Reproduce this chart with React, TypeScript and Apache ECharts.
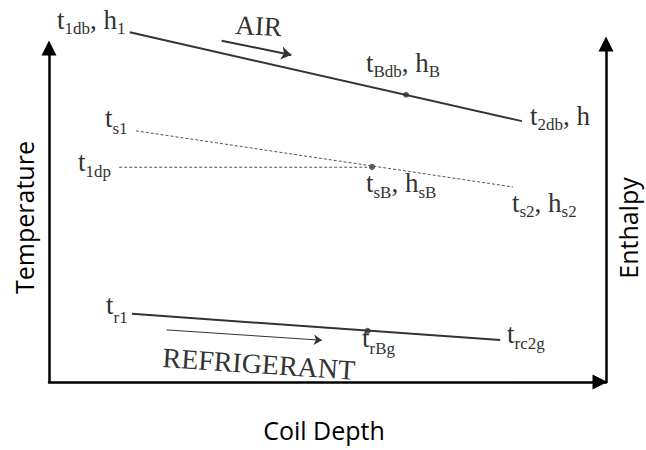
import React, { useEffect, useRef } from "react";
import * as echarts from "echarts";

// ---- data (x: coil depth scale 0..100, y: temperature / enthalpy scale 0..100) ----
const airLine = [[14.5, 104.7], [84.9, 78.1]];
const airState = [[64.1, 86.0]];
const saturationLine = [[15.6, 75.2], [83.3, 58.4]];
const dewPointLine = [[12.6, 64.3], [58.0, 64.3]];
const saturationState = [[58.0, 64.4]];
const refrigerantLine = [[14.9, 20.4], [81.0, 12.6]];
const refrigerantState = [[57.2, 15.3]];
const airFlowArrow = [[31.0, 102.2], [43.5, 97.9]];
const refrigerantFlowArrow = [[21.1, 15.6], [49.0, 12.5]];

const axisTitles = ["Coil Depth", "Temperature", "Enthalpy"];
const flowLabels = ["AIR", "REFRIGERANT"];
// state labels: [text, isSubscript]
const stateLabels: [string, number][][] = [
  [["t", 0], ["1db", 1], [", h", 0], ["1", 1]],
  [["t", 0], ["Bdb", 1], [", h", 0], ["B", 1]],
  [["t", 0], ["2db", 1], [", h", 0]],
  [["t", 0], ["s1", 1]],
  [["t", 0], ["1dp", 1]],
  [["t", 0], ["sB", 1], [", h", 0], ["sB", 1]],
  [["t", 0], ["s2", 1], [", h", 0], ["s2", 1]],
  [["t", 0], ["r1", 1]],
  [["t", 0], ["rBg", 1]],
  [["t", 0], ["rc2g", 1]],
];

// ---- layout ----
const stateLabelLayout = [
  [57, 29.5, 5], [366, 72, 5], [530, 125, 5], [105, 127, 7], [78, 171.5, 6],
  [366, 192, 6], [512, 212, 5], [106, 314, 9], [362, 347, 7], [507, 343.5, 6],
];
const SERIF = '"Liberation Serif", "Times New Roman", serif';
const SANS = '"Open Sans", sans-serif';
const MAIN = 27;
const SUB = 17;
const CENTRAL = 0.3375;
const INK = "#333";

function buildGraphics() {
  const ctx = document.createElement("canvas").getContext("2d")!;
  const els: any[] = [];
  stateLabels.forEach((segs, i) => {
    const [x0, base, drop] = stateLabelLayout[i];
    let x = x0;
    segs.forEach(([txt, sub]) => {
      const size = sub ? SUB : MAIN;
      const bl = base + (sub ? drop : 0);
      els.push({
        type: "text", x, y: bl - CENTRAL * size, silent: true,
        style: { text: txt, fontSize: size, fontFamily: SERIF, fill: INK, align: "left", verticalAlign: "middle" },
      });
      ctx.font = `${size}px ${SERIF}`;
      x += ctx.measureText(txt).width;
    });
  });
  // flow labels
  const flows = [
    { x: 235, y: 34, rot: -0.05, size: 27 },
    { x: 162, y: 367, rot: -0.066, size: 28 },
  ];
  flows.forEach((f, i) => {
    els.push({
      type: "group", x: f.x, y: f.y, rotation: f.rot, silent: true,
      children: [{
        type: "text", x: 0, y: -CENTRAL * f.size,
        style: { text: flowLabels[i], fontSize: f.size, fontFamily: SERIF, fill: INK, align: "left", verticalAlign: "middle" },
      }],
    });
  });
  // axis titles
  const titles = [
    { x: 324, y: 429.5, rot: 0 },
    { x: 23.5, y: 217.5, rot: Math.PI / 2 },
    { x: 627.5, y: 228, rot: Math.PI / 2 },
  ];
  titles.forEach((t, i) => {
    els.push({
      type: "text", x: t.x, y: t.y, rotation: t.rot, silent: true,
      style: { text: axisTitles[i], fontSize: 25, fontFamily: SANS, fill: "#000", align: "center", verticalAlign: "middle" },
    });
  });
  return els;
}

const axisCommon = {
  type: "value",
  min: 0,
  max: 100,
  axisTick: { show: false },
  axisLabel: { show: false },
  splitLine: { show: false },
};

export default function App() {
  const ref = useRef<HTMLDivElement>(null);
  useEffect(() => {
    document.body.style.margin = "0";
    const chart = echarts.init(ref.current!, undefined, { renderer: "svg" });
    const solid = { color: INK, width: 2 };
    const dashed = { color: "#555", width: 1, type: [3, 2] };
    chart.setOption({
      animation: false,
      backgroundColor: "#fff",
      grid: { left: 49, right: 40, top: 48, bottom: 68 },
      xAxis: {
        ...axisCommon,
        axisLine: { show: true, symbol: ["none", "triangle"], symbolSize: [15, 15], symbolOffset: [0, -6], lineStyle: { color: "#000", width: 2.5 } },
      },
      yAxis: [
        {
          ...axisCommon,
          position: "left",
          axisLine: { show: true, onZero: false, symbol: ["none", "triangle"], symbolSize: [15, 15], lineStyle: { color: "#000", width: 2.5 } },
        },
        {
          ...axisCommon,
          position: "right",
          axisLine: { show: true, onZero: false, symbol: ["none", "triangle"], symbolSize: [15, 15], symbolOffset: [0, 4], lineStyle: { color: "#000", width: 2.5 } },
        },
      ],
      series: [
        { name: "Air", type: "line", data: airLine, symbol: "none", clip: false, lineStyle: solid, silent: true },
        { name: "Saturation", type: "line", data: saturationLine, symbol: "none", clip: false, lineStyle: dashed, silent: true },
        { name: "Dew point", type: "line", data: dewPointLine, symbol: "none", clip: false, lineStyle: dashed, silent: true },
        { name: "Refrigerant", type: "line", data: refrigerantLine, symbol: "none", clip: false, lineStyle: solid, silent: true },
        {
          name: "States", type: "scatter", data: [...airState, ...saturationState, ...refrigerantState],
          symbolSize: 6, itemStyle: { color: INK }, silent: true, clip: false,
        },
        {
          name: "Air flow", type: "lines", coordinateSystem: "cartesian2d", clip: false, silent: true,
          symbol: ["none", "arrow"], symbolSize: 10,
          lineStyle: { color: INK, width: 2, opacity: 1, curveness: 0 },
          data: [{ coords: airFlowArrow }],
        },
        {
          name: "Refrigerant flow", type: "lines", coordinateSystem: "cartesian2d", clip: false, silent: true,
          symbol: ["none", "arrow"], symbolSize: 8,
          lineStyle: { color: INK, width: 1, opacity: 1, curveness: 0 },
          data: [{ coords: refrigerantFlowArrow }],
        },
      ],
      graphic: buildGraphics(),
    });
    return () => chart.dispose();
  }, []);
  return <div ref={ref} style={{ position: "fixed", left: 0, top: 0, width: 646, height: 450 }} />;
}
